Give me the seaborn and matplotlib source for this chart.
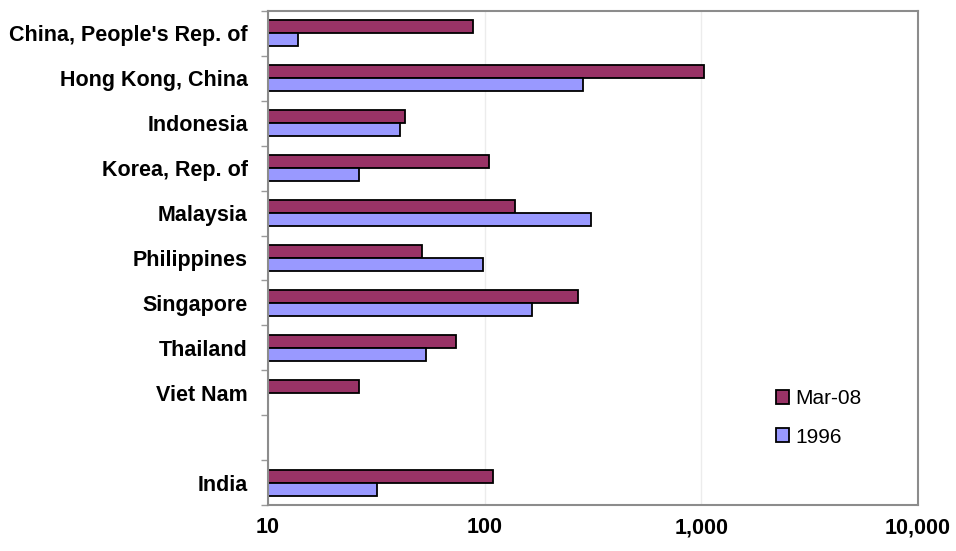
import matplotlib
matplotlib.use("Agg")
import matplotlib.pyplot as plt
from matplotlib.ticker import FixedLocator, FuncFormatter, NullLocator
import numpy as np
import pandas as pd
import seaborn as sns

# Economies in display order; the blank slot separates India from the East Asian group
economies = ["China, People's Rep. of", "Hong Kong, China", "Indonesia",
             "Korea, Rep. of", "Malaysia", "Philippines", "Singapore",
             "Thailand", "Viet Nam", " ", "India"]
mar08 = [88, 1025, 43, 105, 138, 51.5, 271, 73.5, 26.3, None, 109]
y1996 = [13.7, 285, 40.5, 26.2, 310, 98.6, 165, 53.5, None, None, 32]
series = ["Mar-08", "1996"]
x_ticks = [10, 100, 1000, 10000]

df = pd.DataFrame({
    "economy": economies * 2,
    "value": mar08 + y1996,
    "series": [series[0]] * len(economies) + [series[1]] * len(economies),
}).dropna()

sns.set_theme(style="white")
plt.rcParams["font.family"] = ["Liberation Sans", "DejaVu Sans"]
plt.rcParams["text.color"] = "black"

fig = plt.figure(figsize=(9.56, 5.51), dpi=100)
ax = fig.add_axes([0.2803, 0.0835, 0.68, 0.8965])
ax.set_xscale("log")

sns.barplot(data=df, y="economy", x="value", hue="series", order=economies,
            hue_order=series, palette=["#993366", "#9999FF"], width=0.58,
            edgecolor="black", linewidth=1.3, saturation=1, orient="h",
            ax=ax)

ax.set_xlim(x_ticks[0], x_ticks[-1])
ax.set_ylim(len(economies) - 0.5, -0.5)
ax.xaxis.set_major_locator(FixedLocator(x_ticks))
ax.xaxis.set_minor_locator(NullLocator())
ax.xaxis.set_major_formatter(FuncFormatter(lambda v, p: f"{v:,.0f}"))
ax.tick_params(axis="x", length=0, pad=9, labelsize=15.5, labelcolor="black")
for lab in ax.get_xticklabels():
    lab.set_fontweight("bold")

# category separators as short ticks on the left spine
ax.yaxis.set_minor_locator(FixedLocator(np.arange(-0.5, len(economies), 1.0)))
ax.tick_params(axis="y", which="major", length=0, pad=14.5, labelsize=15.5,
               labelcolor="black")
ax.tick_params(axis="y", which="minor", length=5, width=1, color="#9a9a9a",
               left=True)
for lab in ax.get_yticklabels():
    lab.set_fontweight("bold")

ax.grid(axis="x", which="major", color="#ececec", linewidth=1)
ax.set_axisbelow(True)
for sp in ax.spines.values():
    sp.set_color("#8c8c8c")
    sp.set_linewidth(1.5)

ax.set_xlabel("")
ax.set_ylabel("")

leg = ax.legend(loc="upper left", bbox_to_anchor=(0.752, 0.273), frameon=False,
                fontsize=15, handlelength=0.65, handleheight=0.65,
                handletextpad=0.3, labelspacing=0.95)

fig.savefig("out.png", dpi=100)
